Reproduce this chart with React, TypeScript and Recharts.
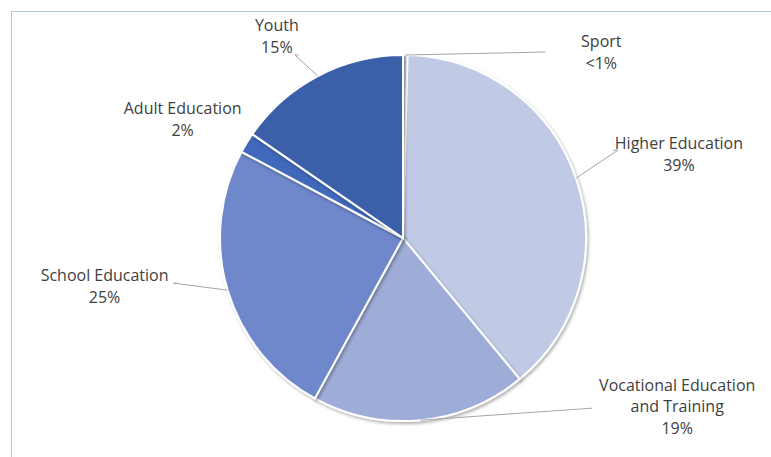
import { Cell, Pie, PieChart } from "recharts";

const categories = ["Sport", "Higher Education", "Vocational Education and Training", "School Education", "Adult Education", "Youth"];
const shares = [0.4, 38.6, 19.0, 24.8, 1.8, 15.4];
const shareLabels = ["<1%", "39%", "19%", "25%", "2%", "15%"];
const labelLines = [["Sport"], ["Higher Education"], ["Vocational Education", "and Training"], ["School Education"], ["Adult Education"], ["Youth"]];

const colors = ["#c1cae5", "#c1cae5", "#9eacd8", "#6e88cb", "#3f68bb", "#3a5fa8"];

// label centre offset from the slice edge point, and leader end relative to label centre
const labelOffset: [number, number][] = [[196, -3], [103, -24], [257, -14], [-123, -4], [-64, -24], [-41, -40]];
const leaderEnd: ([number, number] | null)[] = [[-56, 0], [-66, -4], [-85, 2], [73, -3], null, [22, 19]];

const data = categories.map((name, i) => ({ name, value: shares[i] }));

const RAD = Math.PI / 180;

function renderLabel(props: any) {
  const { cx, cy, midAngle, outerRadius, index } = props;
  const ex = cx + outerRadius * Math.cos(-midAngle * RAD);
  const ey = cy + outerRadius * Math.sin(-midAngle * RAD);
  const [ox, oy] = labelOffset[index];
  const lx = ex + ox;
  const ly = ey + oy;
  const lines = [...labelLines[index], shareLabels[index]];
  const lh = 21.5;
  const top = ly - ((lines.length - 1) * lh) / 2;
  const le = leaderEnd[index];
  let leader = null;
  if (le) {
    const tx = lx + le[0];
    const ty = ly + le[1];
    const elbow = le[0] < 0 ? tx + 5 : tx - 4;
    const pts = index === 2 || index === 0 ? `${ex},${ey} ${tx},${ty}` : `${ex},${ey} ${elbow},${ty} ${tx},${ty}`;
    leader = <polyline points={pts} fill="none" stroke="#a6a6a6" strokeWidth={1} />;
  }
  return (
    <g key={`lbl-${index}`}>
      {leader}
      <text x={lx} y={top} textAnchor="middle" dominantBaseline="central" fill="#404040" fontSize={16} fontFamily="'Open Sans', sans-serif">
        {lines.map((t, k) => (
          <tspan key={k} x={lx} y={top + k * lh}>
            {t}
          </tspan>
        ))}
      </text>
    </g>
  );
}

export default function App() {
  return (
    <div style={{ position: "absolute", left: 0, top: 0, width: 771, height: 457, background: "#fff", overflow: "hidden" }}>
      <div style={{ position: "absolute", left: 11, top: 11, width: 800, height: 500, borderLeft: "1.5px solid #a9c7ec", borderTop: "1.5px solid #a9c7ec" }} />
      <div style={{ position: "absolute", left: 0, top: 0 }}>
        <PieChart width={771} height={457} margin={{ top: 0, right: 0, bottom: 0, left: 0 }}>
          <defs>
            <filter id="shadow" x="-10%" y="-10%" width="120%" height="120%">
              <feDropShadow dx={1.5} dy={2} stdDeviation={1.5} floodColor="#000" floodOpacity={0.3} />
            </filter>
          </defs>
          <Pie
            data={data}
            dataKey="value"
            nameKey="name"
            cx={403}
            cy={238}
            outerRadius={183}
            startAngle={90}
            endAngle={-270}
            stroke="#ffffff"
            strokeWidth={2}
            label={renderLabel}
            labelLine={false}
            isAnimationActive={false}
            style={{ filter: "url(#shadow)" }}
          >
            {data.map((d, i) => (
              <Cell key={d.name} fill={colors[i]} />
            ))}
          </Pie>
        </PieChart>
      </div>
    </div>
  );
}
